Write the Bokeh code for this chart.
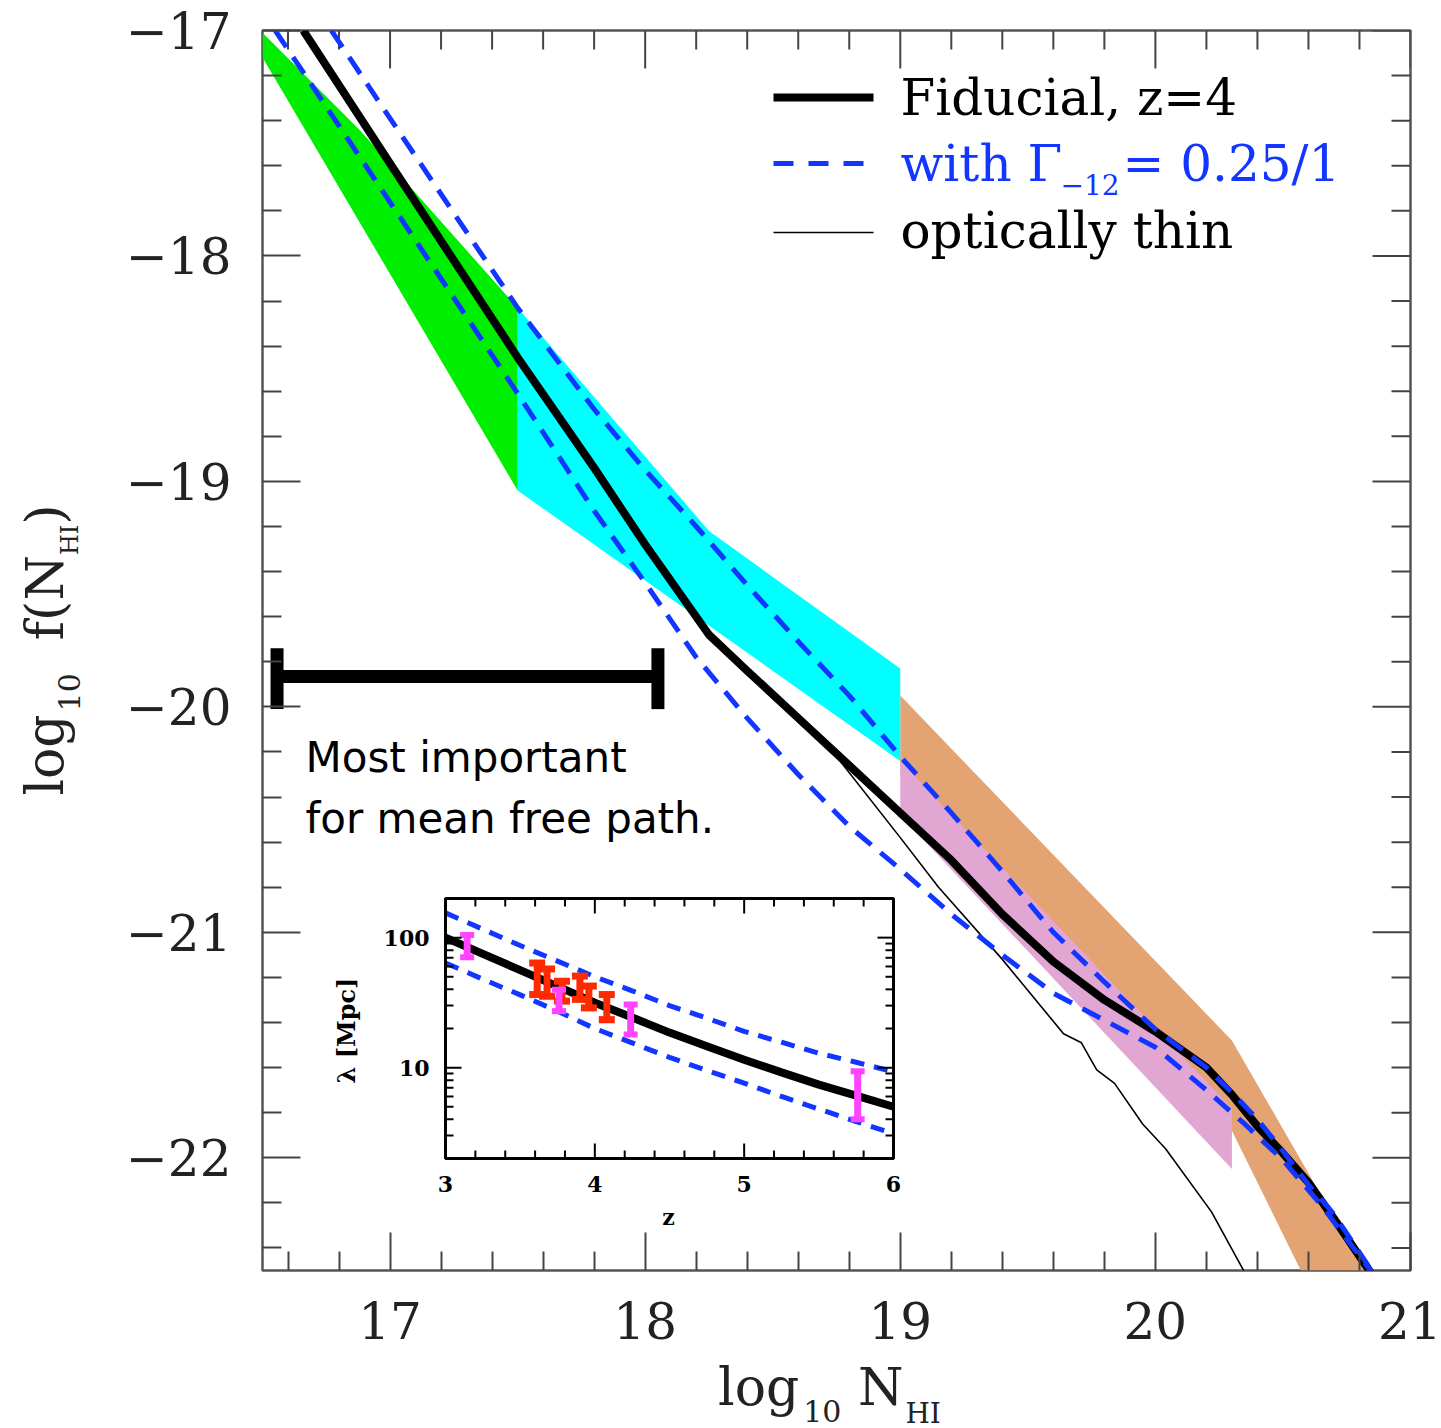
import math
from bokeh.plotting import figure
from bokeh.layouts import row, column
from bokeh.models import Range1d, LogScale, LinearScale, FixedTicker, Label, Div
from bokeh.core.properties import value
from bokeh.embed import file_html
from bokeh.resources import INLINE

# ---------------- main panel data (log10 N_HI, log10 f(N_HI)) ----------------
fid_x = [16.66, 17.0, 17.5, 17.8, 18.0, 18.25, 18.4, 18.6, 18.8, 19.0, 19.2, 19.4,
         19.6, 19.8, 20.0, 20.2, 20.3, 20.4, 20.5, 20.6, 20.7, 20.85]
fid_y = [-17.0, -17.59, -18.45, -18.94, -19.28, -19.68, -19.84, -20.05, -20.26, -20.47,
         -20.68, -20.92, -21.13, -21.30, -21.44, -21.60, -21.72, -21.86, -21.98, -22.11,
         -22.27, -22.52]

thin_x = [16.66, 17.0, 17.5, 18.0, 18.25, 18.5, 18.75, 19.0, 19.15, 19.4, 19.64, 19.71,
          19.77, 19.84, 19.95, 20.04, 20.22, 20.37]
thin_y = [-17.0, -17.59, -18.45, -19.28, -19.68, -19.95, -20.22, -20.58, -20.80, -21.12,
          -21.45, -21.49, -21.61, -21.67, -21.85, -21.96, -22.24, -22.55]

gam_lo_x = [16.77, 17.0, 17.5, 17.8, 18.0, 18.2, 18.4, 18.6, 18.8, 19.0, 19.2, 19.4, 19.6,
            19.8, 20.0, 20.2, 20.3, 20.4, 20.5, 20.6, 20.7, 20.87]
gam_lo_y = [-17.0, -17.39, -18.23, -18.68, -18.95, -19.20, -19.46, -19.71, -19.95, -20.22,
            -20.47, -20.73, -21.0, -21.22, -21.43, -21.60, -21.71, -21.83, -21.97, -22.12,
            -22.25, -22.54]

gam_hi_x = [16.55, 16.94, 17.5, 17.8, 18.0, 18.2, 18.4, 18.6, 18.8, 19.0, 19.2, 19.4, 19.6,
            19.8, 20.0, 20.2, 20.35, 20.5, 20.65, 20.87]
gam_hi_y = [-17.0, -17.66, -18.61, -19.13, -19.45, -19.78, -20.05, -20.30, -20.53, -20.72,
            -20.92, -21.10, -21.27, -21.39, -21.51, -21.70, -21.85, -22.01, -22.21, -22.54]

green_x = [16.5, 16.88, 17.5, 17.5, 16.5]
green_y = [-17.01, -17.44, -18.23, -19.04, -17.12]
cyan_x = [17.5, 18.25, 19.0, 19.0, 17.5]
cyan_y = [-18.23, -19.22, -19.83, -20.24, -19.04]
orange_x = [19.0, 20.3, 20.82, 20.57, 20.3, 19.0]
orange_y = [-19.95, -21.48, -22.5, -22.5, -21.88, -20.3]
pink_x = [19.0, 20.3, 20.3, 19.0]
pink_y = [-20.24, -21.78, -22.05, -20.48]

bar_x = [16.557, 18.05]
bar_y = -19.865
bar_cap = [-19.74, -20.01]

x_major = [17, 18, 19, 20, 21]
y_major = [-22, -21, -20, -19, -18, -17]

# ---------------- inset data (z, lambda [Mpc]) ----------------
inz_range = [3, 6]
inl_range = [2, 200]
in_z = [3.0, 3.25, 3.5, 3.75, 4.0, 4.25, 4.5, 4.75, 5.0, 5.25, 5.5, 5.75, 6.0]
in_fid = [100, 75, 56.2, 42.2, 31.6, 24.3, 18.6, 14.6, 11.5, 9.2, 7.4, 6.1, 5.0]
in_up = [155, 116, 87, 66, 50, 39, 30, 24, 19, 15.7, 12.9, 11.0, 9.3]
in_low = [63.8, 47.9, 36.3, 27.2, 20.0, 15.5, 12.0, 9.5, 7.6, 6.0, 4.8, 3.85, 3.1]

mag_z = [3.145, 3.76, 4.24, 5.76]
mag_lo = [70.5, 27.2, 18.0, 4.0]
mag_hi = [105, 39.8, 30.6, 9.4]
red_z = [3.614, 3.68, 3.78, 3.90, 3.96, 4.08]
red_lo = [36.5, 35.4, 32.5, 33.5, 28.8, 23.4]
red_hi = [63.8, 57.4, 46.2, 50.6, 42.4, 36.5]

in_xmaj = [3, 4, 5, 6]
in_ymaj = [10, 100]
in_ymaj_labels = ["10", "100"]

# ---------------- layout (page pixels) ----------------
W, H = 1441, 1428
LW = 100                      # width of the y-title strip
FIG_W, FIG_H = W - LW, 1362
FL, FR, FT, FB = 262, 1410, 30, 1270
X0, X1 = 16.5, 21.0
Y0, Y1 = -22.5, -17.0
XPP = (X1 - X0) / (FR - FL)
YPP = (Y1 - Y0) / (FB - FT)


def dx(px):
    return X0 + (px - FL) * XPP


def dy(py):
    return Y1 - (py - FT) * YPP


SERIF = "DejaVu Serif"
BLUE = "#1236ff"

fig = figure(width=FIG_W, height=FIG_H, x_range=Range1d(X0, X1), y_range=Range1d(Y0, Y1),
             output_backend="svg", toolbar_location=None,
             min_border_left=FL - LW, min_border_right=W - FR,
             min_border_top=FT, min_border_bottom=FIG_H - FB)
fig.background_fill_color = "white"
fig.border_fill_color = "white"
fig.outline_line_color = "#555555"
fig.outline_line_width = 2.5
fig.xgrid.visible = False
fig.ygrid.visible = False

x_minor = [round(16.6 + 0.2 * i, 1) for i in range(22) if round(16.6 + 0.2 * i, 1) not in x_major]
y_minor = [round(-22.4 + 0.2 * i, 1) for i in range(27) if round(-22.4 + 0.2 * i, 1) not in y_major]

MAJ, MIN = 38, 19
for ax, ticks, minor in ((fig.xaxis[0], x_major, x_minor), (fig.yaxis[0], y_major, y_minor)):
    ax.ticker = FixedTicker(ticks=ticks, minor_ticks=minor)
    ax.axis_line_color = None
    ax.major_tick_in = MAJ
    ax.major_tick_out = 0
    ax.minor_tick_in = MIN
    ax.minor_tick_out = 0
    ax.major_tick_line_color = "#444444"
    ax.minor_tick_line_color = "#444444"
    ax.major_tick_line_width = 2
    ax.minor_tick_line_width = 2
    ax.major_label_text_font = SERIF
    ax.major_label_text_font_size = "50px"
    ax.major_label_text_color = "#222222"
    ax.major_label_standoff = 31
fig.yaxis[0].major_label_overrides = {float(v): "\u2212" + str(abs(v)) for v in y_major}

# mirrored ticks on the top and right edges
for ticks, ln in ((x_major, MAJ), (x_minor, MIN)):
    n = len(ticks)
    fig.segment(x0=ticks, y0=[Y1] * n, x1=ticks, y1=[Y1 - ln * YPP] * n,
                line_color="#444444", line_width=2)
for ticks, ln in ((y_major, MAJ), (y_minor, MIN)):
    n = len(ticks)
    fig.segment(x0=[X1] * n, y0=ticks, x1=[X1 - ln * XPP] * n, y1=ticks,
                line_color="#444444", line_width=2)

# ---------------- shaded regions ----------------
fig.patch(orange_x, orange_y, fill_color="#e3a372", line_color=None)
fig.patch(pink_x, pink_y, fill_color="#e2a6d3", line_color=None)
fig.patch(cyan_x, cyan_y, fill_color="#00ffff", line_color=None)
fig.patch(green_x, green_y, fill_color="#00ee00", line_color=None)

# ---------------- curves ----------------
fig.line(thin_x, thin_y, line_color="black", line_width=1.6)
fig.line(fid_x, fid_y, line_color="black", line_width=8, line_join="round")
fig.line(gam_lo_x, gam_lo_y, line_color=BLUE, line_width=5, line_dash="20 12")
fig.line(gam_hi_x, gam_hi_y, line_color=BLUE, line_width=5, line_dash="20 12")

# ---------------- range bar ----------------
fig.segment(x0=[bar_x[0]], y0=[bar_y], x1=[bar_x[1]], y1=[bar_y], line_color="black", line_width=13)
fig.segment(x0=bar_x, y0=[bar_cap[0]] * 2, x1=bar_x, y1=[bar_cap[1]] * 2,
            line_color="black", line_width=13)


def lab(px, py, text, size, color="black", angle=0.0, style="normal", align="left",
        baseline="middle", font=SERIF):
    fig.add_layout(Label(x=dx(px), y=dy(py), text=text, text_font=font, text_font_size=size,
                         text_color=color, angle=angle, text_font_style=style,
                         text_align=align, text_baseline=baseline))


lab(305, 757, "Most important", "42px", font="DejaVu Sans")
lab(305, 818, "for mean free path.", "42px", font="DejaVu Sans")

# ---------------- legend ----------------
fig.line([dx(773), dx(873)], [dy(97)] * 2, line_color="black", line_width=8)
fig.line([dx(773), dx(866)], [dy(163)] * 2, line_color=BLUE, line_width=5, line_dash="20 15")
fig.line([dx(773), dx(873)], [dy(232)] * 2, line_color="black", line_width=1.6)

lab(900, 97, "Fiducial, z=4", "50px")
lab(900, 163, "with \u0393", "50px", BLUE)
lab(1060, 184, "\u221212", "28px", BLUE)
lab(1122, 163, "= 0.25/1", "50px", BLUE)
lab(900, 230, "optically thin", "50px")

# ---------------- inset (own ranges, log y scale) ----------------
IZL, IZR, ILT, ILB = 445, 893, 898, 1158
ppz = (IZR - IZL) / (inz_range[1] - inz_range[0])
ppd = (ILB - ILT) / (math.log10(inl_range[1]) - math.log10(inl_range[0]))
iz0 = inz_range[0] - (IZL - FL) / ppz
iz1 = inz_range[1] + (FR - IZR) / ppz
il_top = 10 ** (math.log10(inl_range[1]) + (ILT - FT) / ppd)
il_bot = 10 ** (math.log10(inl_range[0]) - (FB - ILB) / ppd)
fig.extra_x_ranges = {"iz": Range1d(iz0, iz1)}
fig.extra_y_ranges = {"il": Range1d(il_bot, il_top)}
fig.extra_x_scales = {"iz": LinearScale()}
fig.extra_y_scales = {"il": LogScale()}
IN = dict(x_range_name="iz", y_range_name="il")

fig.quad(left=[inz_range[0]], right=[inz_range[1]], bottom=[inl_range[0]], top=[inl_range[1]],
         fill_color="white", line_color=None, **IN)

fig.line(in_z, in_fid, line_color="black", line_width=8, line_join="round", **IN)
fig.line(in_z, in_up, line_color=BLUE, line_width=5, line_dash="14 10", **IN)
fig.line(in_z, in_low, line_color=BLUE, line_width=5, line_dash="14 10", **IN)


def errbars(z, lo, hi, color, stem_w, cap_half_px, cap_w):
    cw = cap_half_px / ppz
    fig.segment(x0=z, y0=lo, x1=z, y1=hi, line_color=color, line_width=stem_w, **IN)
    fig.segment(x0=[v - cw for v in z], y0=lo, x1=[v + cw for v in z], y1=lo,
                line_color=color, line_width=cap_w, **IN)
    fig.segment(x0=[v - cw for v in z], y0=hi, x1=[v + cw for v in z], y1=hi,
                line_color=color, line_width=cap_w, **IN)


errbars(red_z, red_lo, red_hi, "#ff2a00", 7, 8, 7)
errbars(mag_z, mag_lo, mag_hi, "#ff44ff", 7, 7, 6)

# inset ticks
in_xmin = [round(3.2 + 0.2 * i, 1) for i in range(14) if round(3.2 + 0.2 * i, 1) not in in_xmaj]
in_ymin = [m * d for d in (1, 10) for m in range(2, 10) if 2 <= m * d < 200]
lo_b, hi_t = inl_range
for ticks, ln in ((in_xmaj, 15), (in_xmin, 8)):
    f = 10 ** (ln / ppd)
    n = len(ticks)
    fig.segment(x0=ticks, y0=[lo_b] * n, x1=ticks, y1=[lo_b * f] * n,
                line_color="black", line_width=2, **IN)
    fig.segment(x0=ticks, y0=[hi_t] * n, x1=ticks, y1=[hi_t / f] * n,
                line_color="black", line_width=2, **IN)
for ticks, ln in ((in_ymaj, 16), (in_ymin, 8)):
    d = ln / ppz
    n = len(ticks)
    fig.segment(x0=[inz_range[0]] * n, y0=ticks, x1=[inz_range[0] + d] * n, y1=ticks,
                line_color="black", line_width=2, **IN)
    fig.segment(x0=[inz_range[1]] * n, y0=ticks, x1=[inz_range[1] - d] * n, y1=ticks,
                line_color="black", line_width=2, **IN)

fig.quad(left=[inz_range[0]], right=[inz_range[1]], bottom=[inl_range[0]], top=[inl_range[1]],
         fill_color=None, line_color="black", line_width=3, **IN)

fig.text(x=in_xmaj, y=[inl_range[0]] * len(in_xmaj), text=[str(v) for v in in_xmaj],
         text_font=value(SERIF), text_font_size="22px", text_font_style="bold",
         text_align="center", text_baseline="top", y_offset=17, **IN)
fig.text(x=[inz_range[0]] * len(in_ymaj), y=in_ymaj, text=in_ymaj_labels,
         text_font=value(SERIF), text_font_size="22px", text_font_style="bold",
         text_align="right", text_baseline="middle", x_offset=-16, **IN)

lab(668, 1216, "z", "22px", style="bold", align="center")
lab(346, 1030, "\u03bb [Mpc]", "24px", angle=math.pi / 2, style="bold", align="center")

# ---------------- axis titles (HTML text with true subscripts) ----------------
ytitle = Div(
    width=LW, height=H, margin=0,
    text=('<div style="width:%dpx;height:%dpx;display:flex;align-items:center;'
          'justify-content:center;">'
          '<div style="transform:rotate(-90deg);white-space:nowrap;font-family:\'DejaVu Serif\';'
          'font-size:52px;line-height:52px;color:#222;">'
          'log<span style="font-size:30px;position:relative;top:17px;margin-left:3px;">10</span>'
          '&nbsp;&nbsp;f(N<span style="font-size:24px;position:relative;top:15px;">HI</span>)'
          '</div></div>') % (LW, 2 * ((FT + FB) // 2)))

xtitle = Div(
    width=FIG_W, height=H - FIG_H, margin=0,
    text=('<div style="font-family:\'DejaVu Serif\';font-size:52px;line-height:50px;color:#222;'
          'white-space:nowrap;padding-left:%dpx;">'
          'log<span style="font-size:30px;position:relative;top:17px;margin-left:4px;">10</span>'
          '&nbsp;N<span style="font-size:28px;position:relative;top:18px;margin-left:2px;">HI</span>'
          '</div>') % (718 - LW))

p = row(ytitle, column(fig, xtitle, spacing=0), spacing=0)

open("out.html", "w").write(file_html(p, INLINE))
